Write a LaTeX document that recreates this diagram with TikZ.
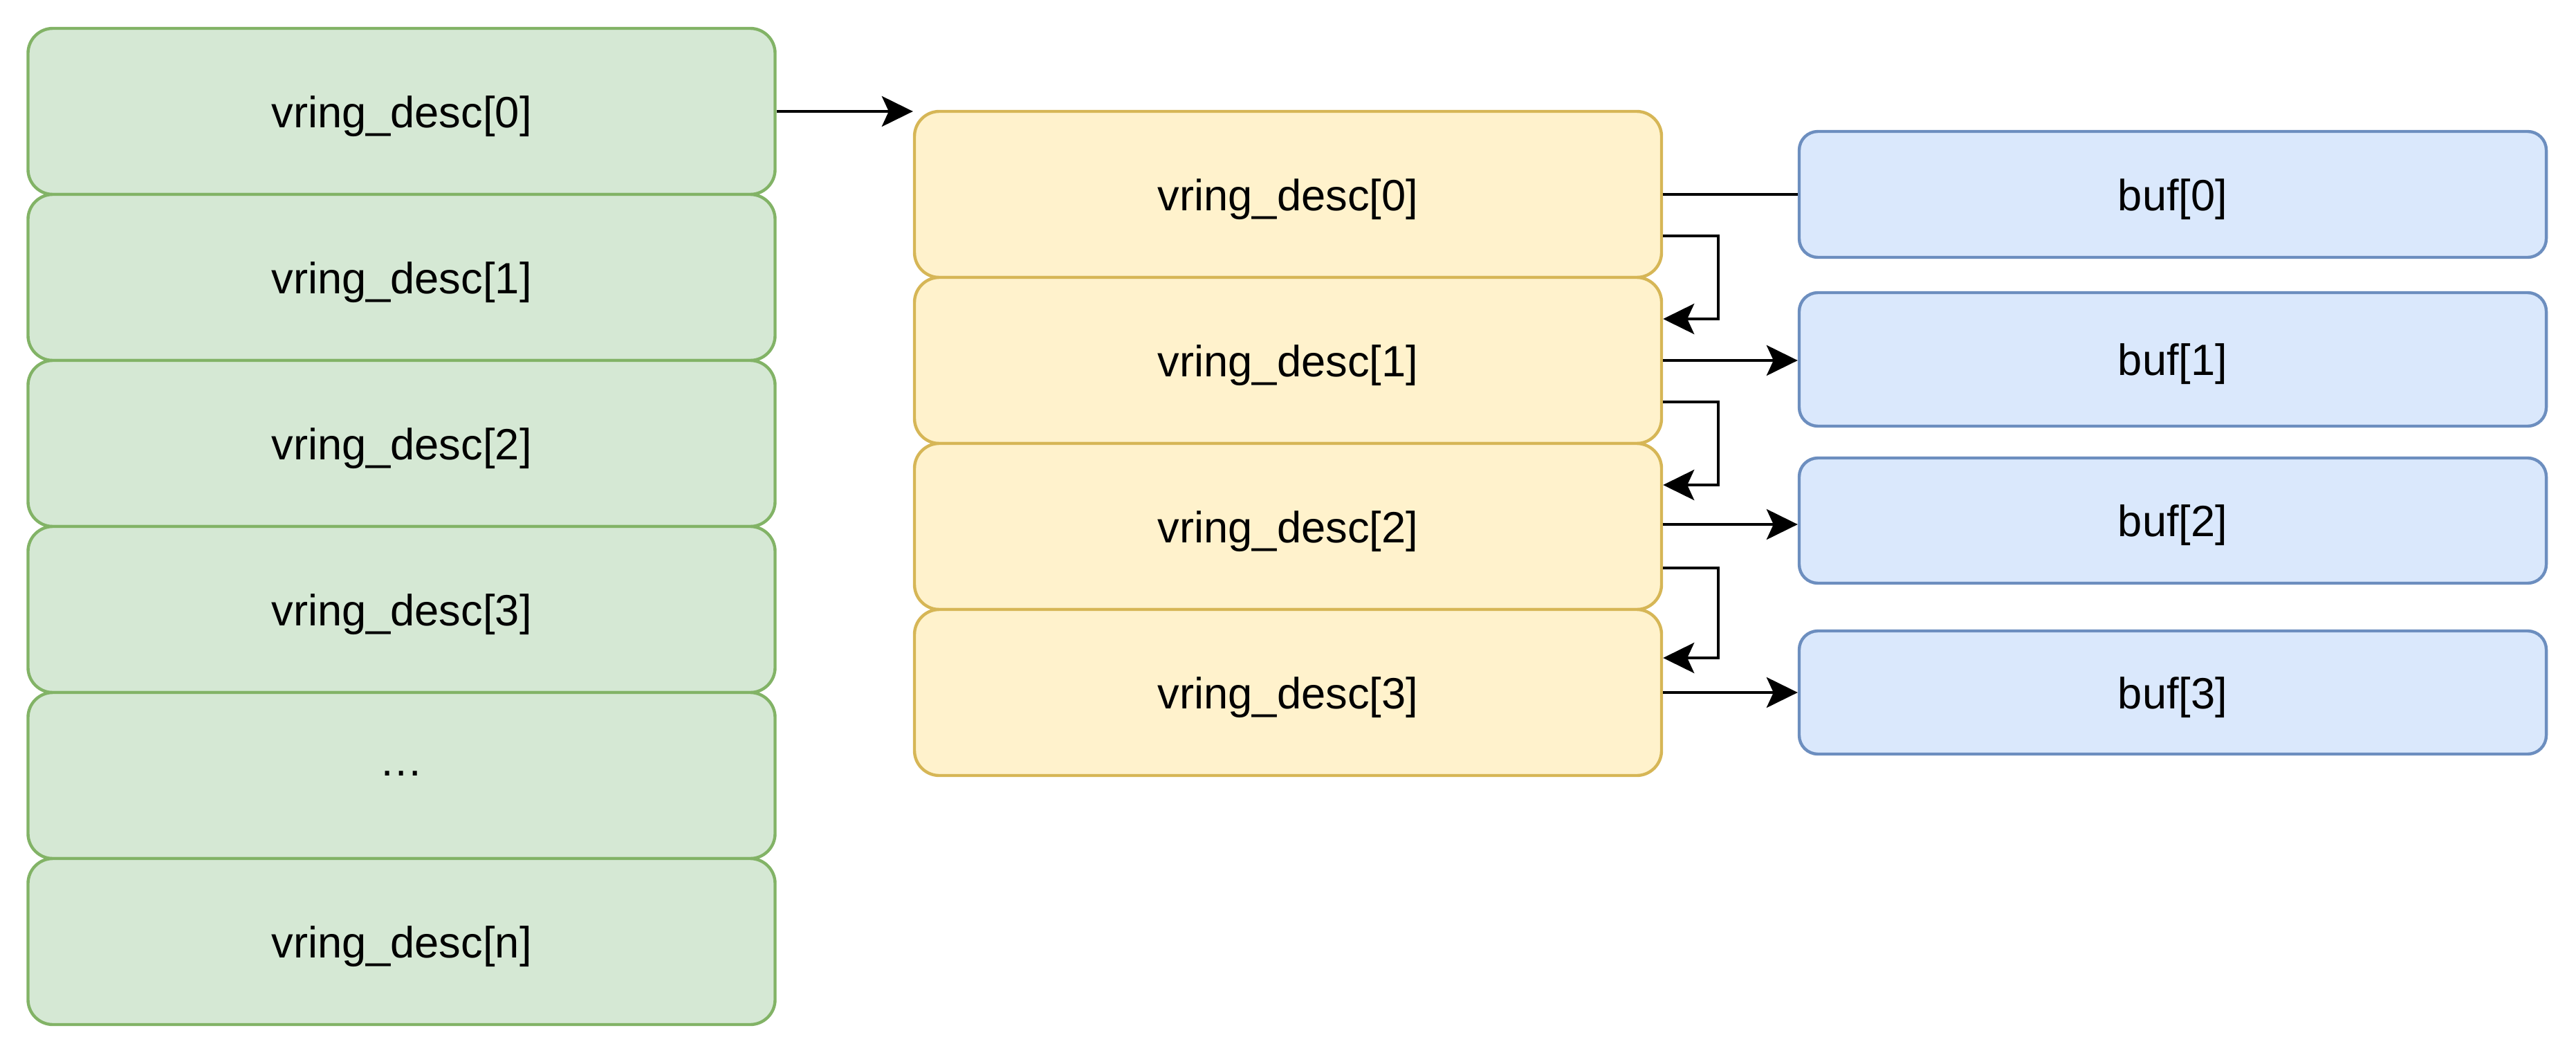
\documentclass[tikz,border=0pt]{standalone}
\usepackage{fontspec}
\setmainfont{Liberation Sans}
\usetikzlibrary{arrows.meta,calc}
\definecolor{gfill}{HTML}{D5E8D4}
\definecolor{gline}{HTML}{82B366}
\definecolor{yfill}{HTML}{FFF2CC}
\definecolor{yline}{HTML}{D6B656}
\definecolor{bfill}{HTML}{DAE8FC}
\definecolor{bline}{HTML}{6C8EBF}
\tikzset{
  box/.style={draw, line width=1.25pt, inner sep=0pt, minimum width=10.8cm,
    text height=0.6cm, text depth=0.14cm,
    font=\fontsize{18}{22}\selectfont, text=black},
  gbox/.style={box, fill=gfill, draw=gline, minimum height=2.4cm, rounded corners=0.36cm},
  ybox/.style={box, fill=yfill, draw=yline, minimum height=2.4cm, rounded corners=0.36cm},
  bbox/.style={box, fill=bfill, draw=bline, rounded corners=0.27cm},
  conn/.style={draw=black, line width=1.2pt},
  arr/.style={conn, -{Stealth[length=0.45cm, width=0.44cm, inset=0.1cm]}},
}
\begin{document}
\begin{tikzpicture}
\useasboundingbox (0,0) rectangle (37.24,-15.24);
% green column
\node[gbox] (g0) at (5.805,-1.61) {vring\_desc[0]};
\node[gbox] (g1) at (5.805,-4.01) {vring\_desc[1]};
\node[gbox] (g2) at (5.805,-6.41) {vring\_desc[2]};
\node[gbox] (g3) at (5.805,-8.81) {vring\_desc[3]};
\node[gbox, text height=0.2cm, text depth=0.2cm] (g4) at (5.805,-11.21) {…};
\node[gbox] (g5) at (5.805,-13.61) {vring\_desc[n]};
% yellow column
\node[ybox] (y0) at (18.62,-2.81) {vring\_desc[0]};
\node[ybox] (y1) at (18.62,-5.21) {vring\_desc[1]};
\node[ybox] (y2) at (18.62,-7.61) {vring\_desc[2]};
\node[ybox] (y3) at (18.62,-10.01) {vring\_desc[3]};
% blue column
\node[bbox, minimum height=1.82cm] (b0) at (31.41,-2.81) {buf[0]};
\node[bbox, minimum height=1.93cm] (b1) at (31.41,-5.195) {buf[1]};
\node[bbox, minimum height=1.81cm] (b2) at (31.41,-7.525) {buf[2]};
\node[bbox, minimum height=1.78cm] (b3) at (31.41,-10.01) {buf[3]};
% connectors
\draw[arr] (g0.east) -- (g0.east -| y0.west);
\draw[conn] (y0.east) -- (b0.west);
\draw[arr] ([yshift=-0.6cm]y0.east) -- ++(0.8,0) |- ([yshift=0.6cm]y1.east);
\draw[arr] (y1.east) -- (y1.east -| b1.west);
\draw[arr] ([yshift=-0.6cm]y1.east) -- ++(0.8,0) |- ([yshift=0.6cm]y2.east);
\draw[arr] ([yshift=0.03cm]y2.east) -- ([yshift=0.03cm]y2.east -| b2.west);
\draw[arr] ([yshift=-0.6cm]y2.east) -- ++(0.8,0) |- ([yshift=0.5cm]y3.east);
\draw[arr] (y3.east) -- (b3.west);
\end{tikzpicture}
\end{document}
